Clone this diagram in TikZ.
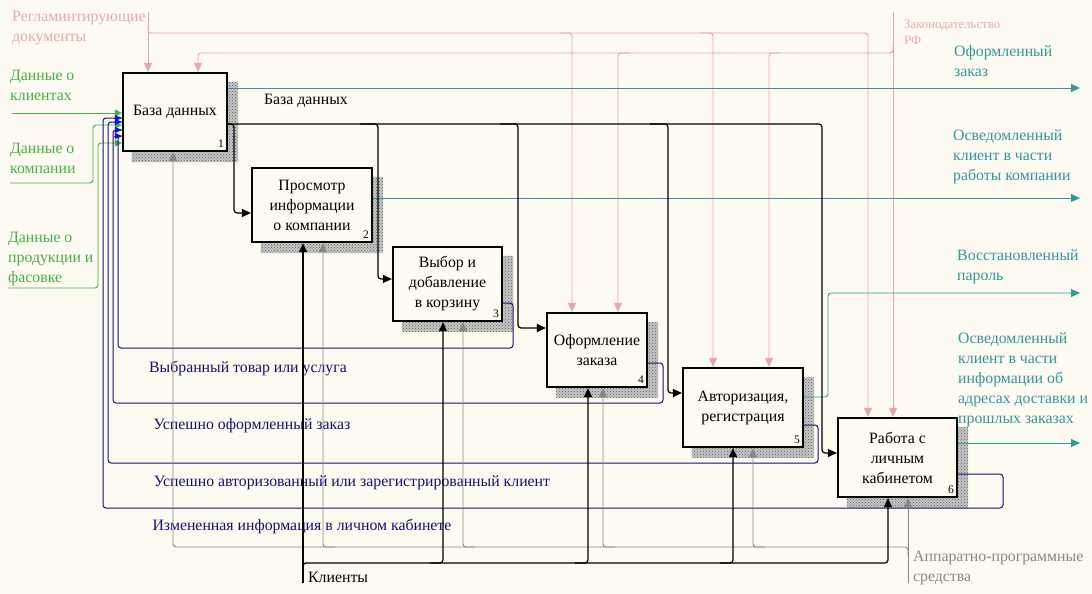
\documentclass[tikz,border=0pt]{standalone}
\usepackage{fontspec}
\setmainfont{Liberation Serif}
\newfontfamily\diagserif{Liberation Serif}
\usetikzlibrary{arrows.meta,patterns,calc}
\definecolor{bgc}{RGB}{253,251,241}
\definecolor{pinkc}{RGB}{232,165,170}
\definecolor{pinktx}{RGB}{228,172,172}
\definecolor{greenc}{RGB}{70,175,70}
\definecolor{tealc}{RGB}{50,150,155}
\definecolor{navyc}{RGB}{22,16,112}
\definecolor{bluetip}{RGB}{20,20,225}
\definecolor{grayc}{RGB}{135,135,135}
\pgfdeclarelayer{back}
\pgfsetlayers{back,main}
\begin{document}
\begin{tikzpicture}[x=1pt,y=-1pt,
  box/.style={draw, line width=2.2pt, fill=bgc, align=center, inner sep=1pt, font=\diagserif\fontsize{15.8}{20}\selectfont},
  num/.style={anchor=south east, inner sep=4pt, font=\diagserif\fontsize{11.5}{12}\selectfont},
  lab/.style={align=left, anchor=north west, inner sep=0pt, font=\diagserif\fontsize{15.8}{20}\selectfont},
  small/.style={align=left, anchor=north west, inner sep=0pt, font=\diagserif\fontsize{12.8}{16}\selectfont},
  flow/.style={inner sep=0pt, font=\diagserif\fontsize{15.8}{20}\selectfont},
  tipc/.style={-{Triangle[length=9pt,width=8pt]}},
  tipg/.style={-{Triangle[length=7pt,width=7pt]}},
  ctrl/.style={draw=pinkc, line width=0.9pt, rounded corners=3pt},
  outl/.style={draw=tealc, line width=0.9pt, rounded corners=3pt},
  inl/.style={draw=greenc, line width=0.9pt, rounded corners=3pt},
  fb/.style={draw=navyc, line width=1pt, rounded corners=3pt},
  fbtip/.style={draw=bluetip, line width=0.9pt, -{Triangle[length=7pt,width=6pt]}},
  blk/.style={draw=black, line width=1.2pt, rounded corners=3pt},
  mech/.style={draw=grayc, line width=0.9pt, rounded corners=3pt}
]
\begin{pgfonlayer}{back}
\fill[bgc] (0,0) rectangle (1092,594);
\end{pgfonlayer}
\useasboundingbox (0,0) rectangle (1092,594);

% boxes
\node[box, minimum width=104pt, minimum height=78pt] (b1) at (175,112) {База данных};
\node[box, minimum width=120pt, minimum height=74pt] (b2) at (312,205) {Просмотр\\информации\\о компании};
\node[box, minimum width=109pt, minimum height=74pt] (b3) at (447.5,284) {Выбор и\\добавление\\в корзину};
\node[box, minimum width=100pt, minimum height=74pt] (b4) at (597,350) {Оформление\\заказа};
\node[box, minimum width=120pt, minimum height=79pt] (b5) at (743,407.5) {Авторизация,\\регистрация};
\node[box, minimum width=119pt, minimum height=79pt] (b6) at (897.5,457.5) {Работа с\\личным\\кабинетом};
\node[num] (n1) at (b1.south east) {1};
\node[num] (n2) at (b2.south east) {2};
\node[num] (n3) at (b3.south east) {3};
\node[num] (n4) at (b4.south east) {4};
\node[num] (n5) at (b5.south east) {5};
\node[num] (n6) at (b6.south east) {6};

% shadows
\begin{pgfonlayer}{back}
\foreach \b in {b1,b2,b3,b4,b5,b6}{
  \fill[black!22, postaction={pattern=crosshatch dots, pattern color=black!65}]
    ($(\b.north east)+(0,10)$) -- ++(10,0) -- ($(\b.south east)+(10,10)$)
    -- ($(\b.south west)+(10,10)$) -- ($(\b.south west)+(10,0)$) -- (\b.south east) -- cycle;
}
\end{pgfonlayer}

% labels
\node[lab, text=pinktx] (lreg) at (12,11) {Регламинтирующие\\документы};
\node[small, text=pinktx] (lzak) at (904,20) {Законодательство\\РФ};
\node[lab, text=greenc] (lg1) at (10,70) {Данные о\\клиентах};
\node[lab, text=greenc] (lg2) at (10,143) {Данные о\\компании};
\node[lab, text=greenc] (lg3) at (8,232) {Данные о\\продукции и\\фасовке};
\node[lab, text=tealc] (lo1) at (954,45) {Оформленный\\заказ};
\node[lab, text=tealc] (lo2) at (953,129) {Осведомленный\\клиент в части\\работы компании};
\node[lab, text=tealc] (lo3) at (957,249) {Восстановленный\\пароль};
\node[lab, text=tealc] (lo4) at (958,332) {Осведомленный\\клиент в части\\информации об\\адресах доставки и\\прошлых заказах};
\node[lab, text=grayc] (lm) at (913,551) {Аппаратно-программные\\средства};
\node[flow, anchor=west] (lkl) at (308,577) {Клиенты};
\node[flow] (ldb) at (306,101) {База данных};
\node[flow, text=navyc] (lf1) at (248,369) {Выбранный товар или услуга};
\node[flow, text=navyc] (lf2) at (252,426) {Успешно оформленный заказ};
\node[flow, text=navyc] (lf3) at (352,483) {Успешно авторизованный или зарегистрированный клиент};
\node[flow, text=navyc] (lf4) at (302,527) {Измененная информация в личном кабинете};

% free ends
\coordinate (regS) at (148,12);
\coordinate (zakS) at (893,12);
\coordinate (gS1) at (12,113);
\coordinate (gS2) at (10,183);
\coordinate (gS3) at (8,288);
\coordinate (o1) at (1080,88);
\coordinate (o2) at (1080,198);
\coordinate (o3) at (1080,293);
\coordinate (o4) at (1080,443);
\coordinate (mS) at (908,583);
\coordinate (kS) at (303,583);

% controls
\draw[ctrl,tipc] (regS) -- (148,0 |- b1.north);
\draw[ctrl,tipc] (148,26) |- (868,33) -- (868,0 |- b6.north);
\draw[ctrl,tipc] (560,33) -| (572,0 |- b4.north);
\draw[ctrl,tipc] (700,33) -| (713,0 |- b5.north);
\draw[ctrl,tipc] (zakS) -- (893,0 |- b6.north);
\draw[ctrl,tipc] (893,46) |- (198,53) -- (198,0 |- b1.north);
\draw[ctrl,tipc] (630,53) -| (618,0 |- b4.north);
\draw[ctrl,tipc] (780,53) -| (769,0 |- b5.north);

% outputs
\draw[outl,tipc] (b1.east |- 0,88) -- (o1);
\draw[outl,tipc] (b2.east |- 0,198) -- (o2);
\draw[outl,tipc] (b5.east |- 0,397) -| (828,293) -- (o3);
\draw[outl,tipc] (b6.east |- 0,443) -- (o4);

% inputs
\draw[inl,tipg] (gS1) -- (b1.west |- 0,113);
\draw[inl,tipg] (gS2) -| (93,125) -- (b1.west |- 0,125);
\draw[inl,tipg] (gS3) -| (98,143) -- (b1.west |- 0,143);

% database
\draw[blk,tipc] (b1.east |- 0,124) -| (822,453) -- (b6.west |- 0,453);
\draw[blk,tipc] (b1.east |- 0,124) -| (234,213) -- (b2.west |- 0,213);
\draw[blk,tipc] (360,124) -| (378,279) -- (b3.west |- 0,279);
\draw[blk,tipc] (500,124) -| (518,328) -- (b4.west |- 0,328);
\draw[blk,tipc] (650,124) -| (668,393) -- (b5.west |- 0,393);

% feedback
\draw[fb] (b3.east |- 0,303) -| (513,348) -| (118,136) -- (b1.west |- 0,136);
\draw[fb] (b4.east |- 0,363) -| (663,403) -| (113,130) -- (b1.west |- 0,130);
\draw[fb] (b5.east |- 0,425) -| (818,463) -| (108,122) -- (b1.west |- 0,122);
\draw[fb] (b6.east |- 0,474) -| (1003,508) -| (103,118) -- (b1.west |- 0,118);
\foreach \yy in {118,122,130,136}{
  \draw[fbtip] (114,\yy) -- (b1.west |- 0,\yy);
}

% mechanisms
\draw[mech,tipc] (mS) -- (908,0 |- b6.south);
\draw[mech,tipc] (908,556) |- (173,547) -- (173,0 |- b1.south);
\draw[mech,tipc] (335,547) -| (323,0 |- b2.south);
\draw[mech,tipc] (475,547) -| (463,0 |- b3.south);
\draw[mech,tipc] (615,547) -| (603,0 |- b4.south);
\draw[mech,tipc] (765,547) -| (753,0 |- b5.south);

% clients
\draw[blk,tipc] (kS) -- (303,0 |- b2.south);
\draw[blk,tipc] (303,572) |- (888,563) -- (888,0 |- b6.south);
\draw[blk,tipc] (430,563) -| (443,0 |- b3.south);
\draw[blk,tipc] (575,563) -| (588,0 |- b4.south);
\draw[blk,tipc] (720,563) -| (733,0 |- b5.south);
\end{tikzpicture}
\end{document}
